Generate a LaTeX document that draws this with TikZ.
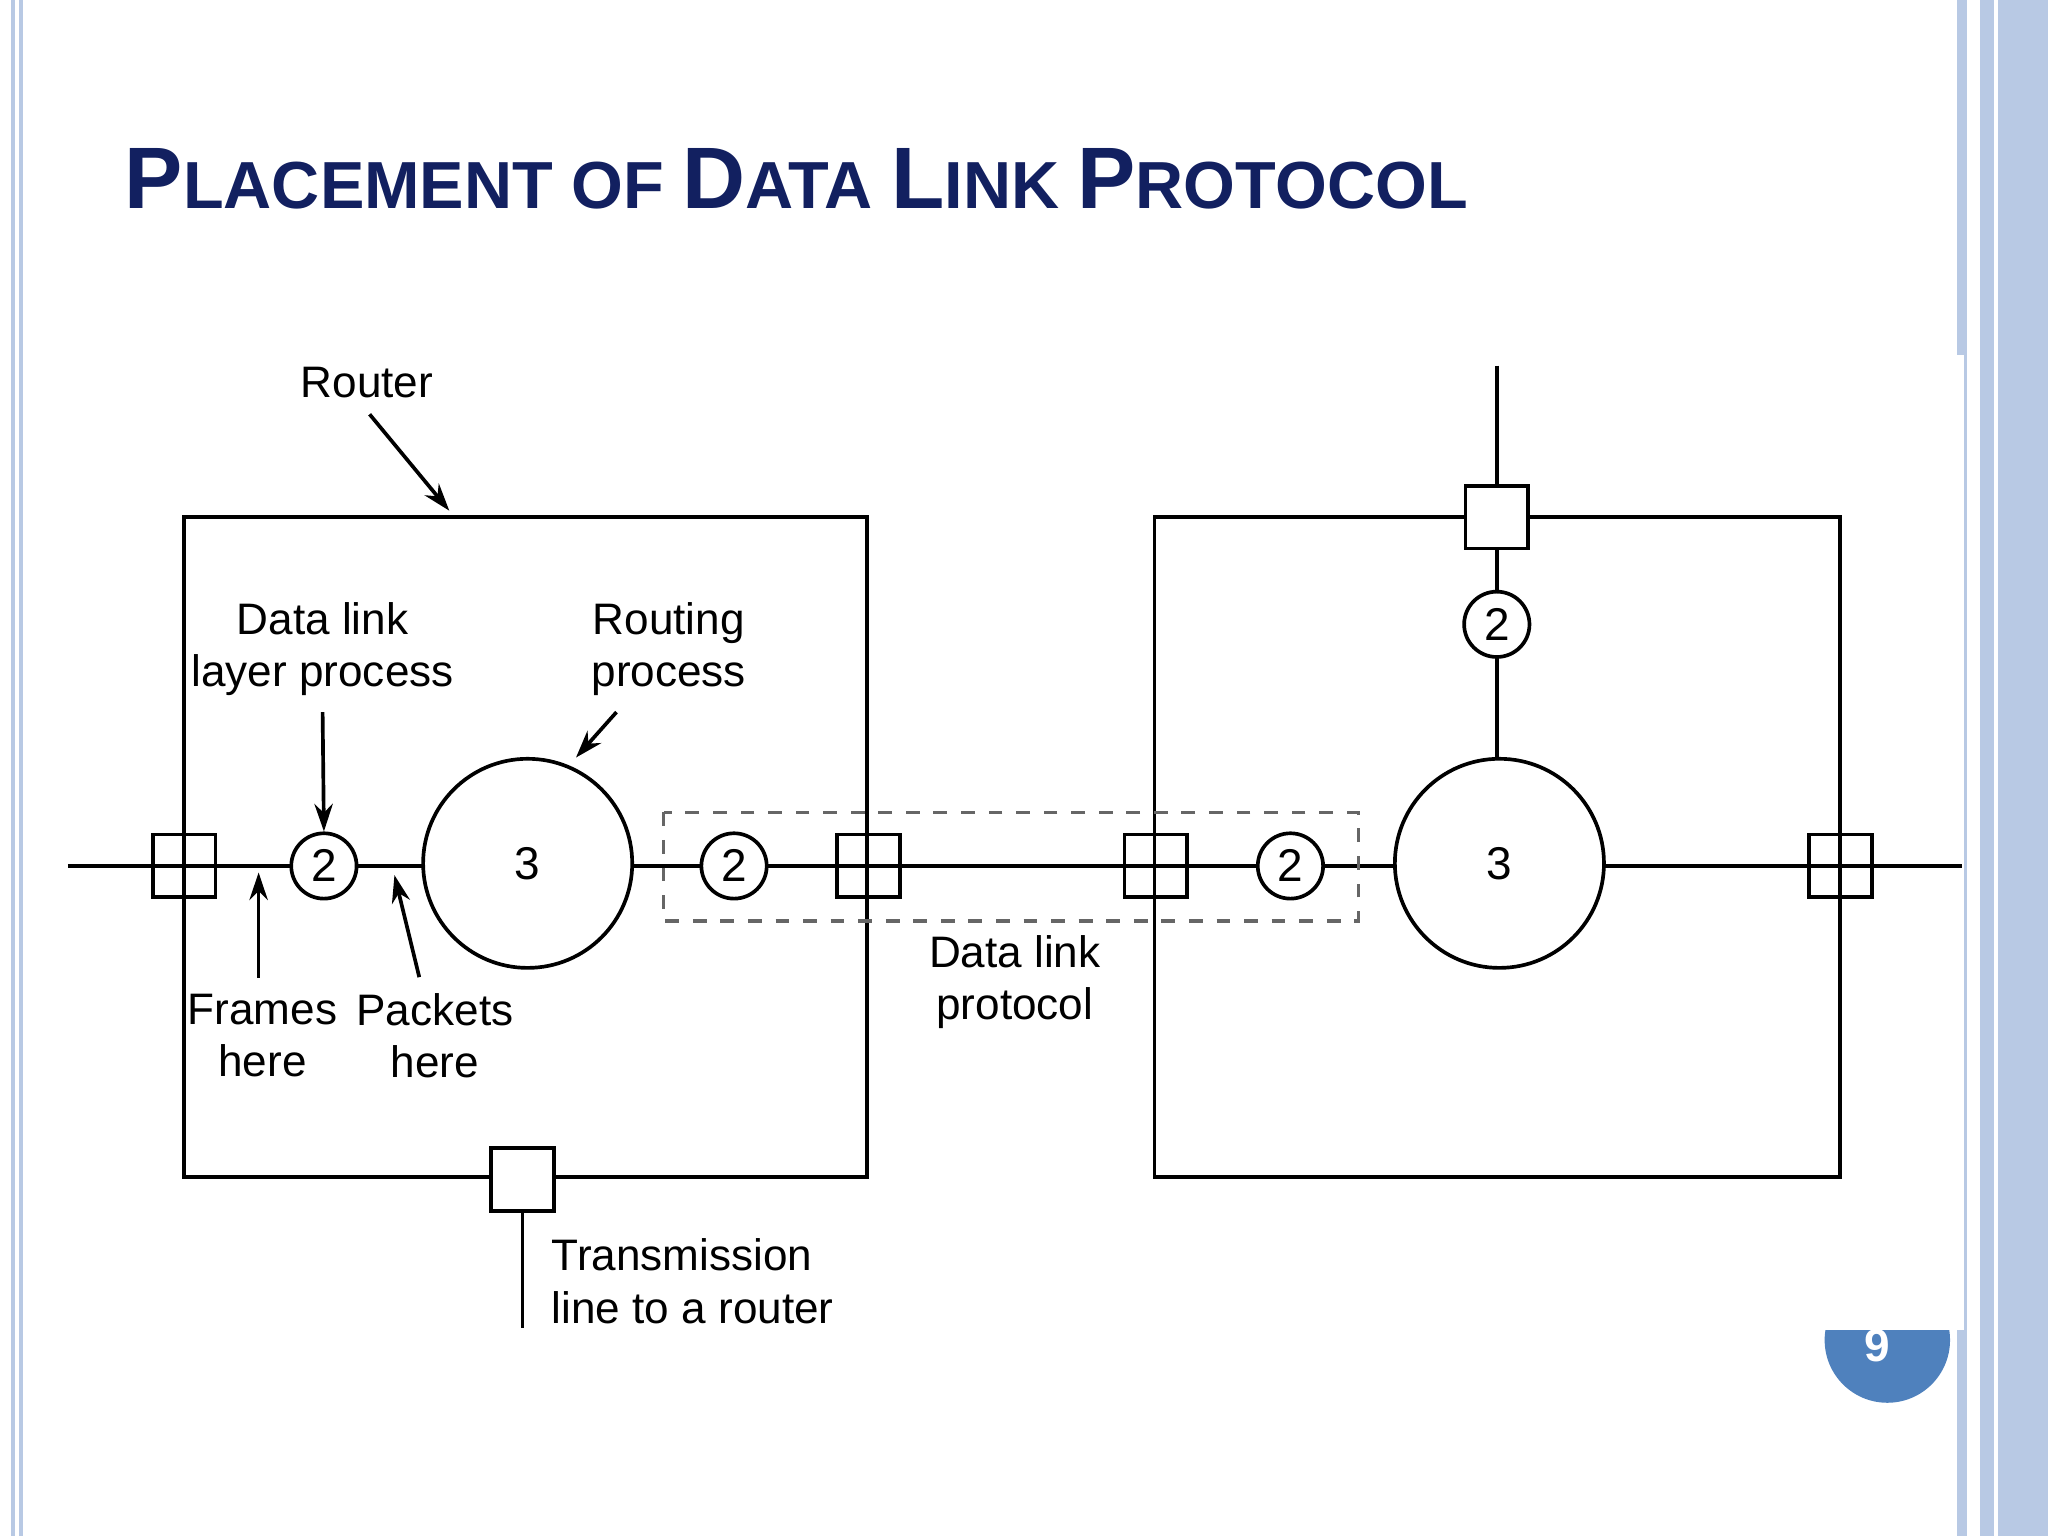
\documentclass[tikz,border=0pt]{standalone}
\usepackage{fontspec}
\setmainfont{Liberation Sans}
\usetikzlibrary{arrows.meta,positioning}
\definecolor{titleblue}{RGB}{18,32,96}
\definecolor{sideblue}{RGB}{184,201,228}
\definecolor{pageblue}{RGB}{79,129,189}
\begin{document}
\begin{tikzpicture}[x=0.01cm,y=-0.01cm,
    port/.style={draw, thick, minimum size=0.48cm, inner sep=0pt},
    dll/.style={draw, thick, circle, minimum size=0.5cm, inner sep=0pt, font=\fontsize{10}{11}\selectfont},
    rtr/.style={draw, thick, circle, minimum size=1.6cm, inner sep=0pt, font=\fontsize{10}{11}\selectfont},
    label/.style={align=center, font=\fontsize{9.6}{11.4}\selectfont},
    pointer/.style={thick, -{Stealth[length=6pt,width=4pt]}}
  ]
\useasboundingbox (0,0) rectangle (1568,1176);

% page frame
\draw[sideblue, thick] (10,0) -- (10,1176);
\draw[sideblue, thick] (16,0) -- (16,1176);
\fill[sideblue] (1498,0) rectangle (1506,1176);
\fill[sideblue] (1516,0) rectangle (1568,1176);
\draw[white, thick] (1528,0) -- (1528,1176);

% page number
\fill[pageblue] (1445,1026) circle (48);
\fill[white] (1380,272) rectangle (1504,1018);
\node[white, font=\bfseries\fontsize{10}{11}\selectfont] (pgnum) at (1437,1030) {9};

% title
\node[anchor=base west, text=titleblue, font=\bfseries, inner sep=0pt] (title) at (95,160)
  {\fontsize{19}{20}\selectfont P\fontsize{14.5}{15}\selectfont LACEMENT OF \fontsize{19}{20}\selectfont D\fontsize{14.5}{15}\selectfont ATA \fontsize{19}{20}\selectfont L\fontsize{14.5}{15}\selectfont INK \fontsize{19}{20}\selectfont P\fontsize{14.5}{15}\selectfont ROTOCOL};

% routers
\draw[thick] (141,396) rectangle (664,901);
\draw[thick] (884,396) rectangle (1409,901);

% line ends
\coordinate (west) at (52,663);
\coordinate (east) at (1502,663);
\coordinate (north) at (1146,280);
\coordinate (south) at (400,1017);

% main line
\draw[thick] (west) -- (east);
\draw[thick] (north) -- (1146,581);
\draw[thick] (400,903) -- (south);

% dashed box
\draw[thick, dashed, gray!80!black] (508,622) rectangle (1040,705);

% processes
\node[rtr, fill=white] (rp1) at (404,661) {3};
\node[rtr, fill=white] (rp2) at (1148,661) {3};
\node[dll, fill=white] (d1) at (248,663) {2};
\node[dll, fill=white] (d2) at (562,663) {2};
\node[dll, fill=white] (d3) at (988,663) {2};
\node[dll, fill=white] (d4) at (1146,478) {2};

% ports
\node[port] (p1) at (141,663) {};
\node[port] (p2) at (665,663) {};
\node[port] (p3) at (885,663) {};
\node[port] (p4) at (1409,663) {};
\node[port, fill=white] (p5) at (400,903) {};
\node[port, fill=white] (p6) at (1146,396) {};

% descriptions
\node[label] (router) at (281,293) {Router};
\node[label] (dlp) at (247,497) {Data link\\layer process};
\node[label] (routing) at (512,497) {Routing\\process};
\node[label] (frames) at (201,793) {Frames\\here};
\node[label] (packets) at (333,793) {Packets\\here};
\node[label] (protocol) at (777,752) {Data link\\protocol};
\node[label, align=left, anchor=west] (trans) at (410,981) {Transmission\\line to a router};

\coordinate (boxtop) at (344,391);
\coordinate (rptip) at (441,580);
\coordinate (ftip) at (198,668);
\coordinate (ptip) at (302,670);
\draw[pointer] (router.south) ++(2,0) -- (boxtop);
\draw[pointer] (dlp.south) -- (d1.north);
\draw[pointer] (routing.south) ++(-40,0) -- (rptip);
\draw[pointer] (frames.north) ++(-3,0) -- (ftip);
\draw[pointer] (packets.north) ++(-12,0) -- (ptip);

\end{tikzpicture}
\end{document}
